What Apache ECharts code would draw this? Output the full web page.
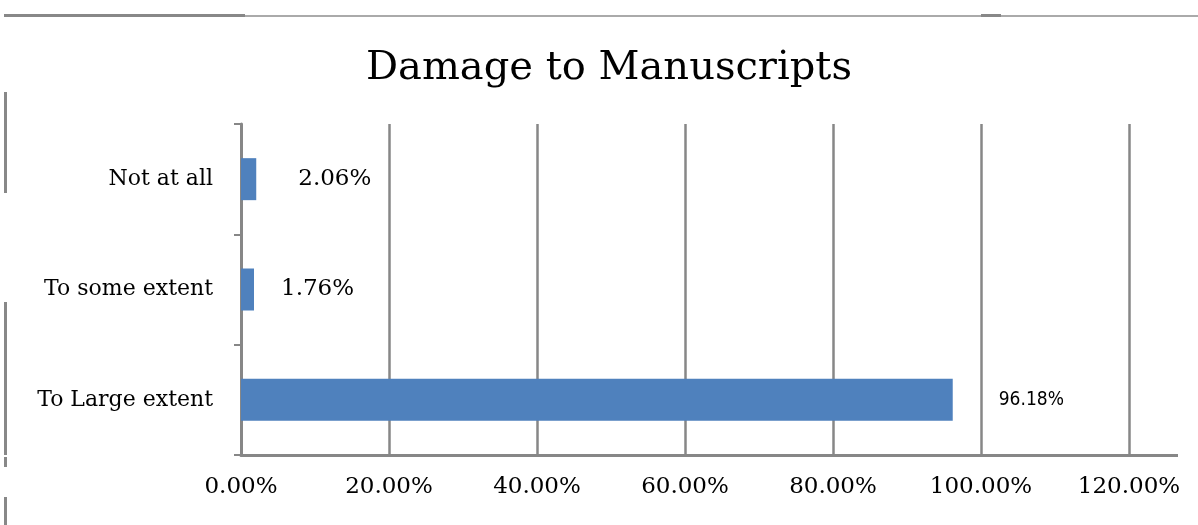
<!DOCTYPE html>
<html>
<head>
<meta charset="utf-8">
<script src="https://cdn.jsdelivr.net/npm/echarts@6/dist/echarts.min.js"></script>
<style>
html,body{margin:0;padding:0;background:#fff;}
#chart{width:1198px;height:525px;}
</style>
</head>
<body>
<div id="chart"></div>
<script>
// ---- data ----
var titleText = 'Damage to Manuscripts';
var categories = ['To Large extent', 'To some extent', 'Not at all'];
var values = [96.18, 1.76, 2.06];
var xTicks = [0, 20, 40, 60, 80, 100, 120];

// ---- styles ----
var serif = "'DejaVu Serif', serif";
var grey = '#878787';
var labelStyles = [
  {distance: 46, fontFamily: "'Liberation Sans Narrow','DejaVu Sans Condensed', sans-serif", fontSize: 19},
  {distance: 27},
  {distance: 42}
];

var chart = echarts.init(document.getElementById('chart'));
var option = {
  animation: false,
  backgroundColor: '#fff',
  title: {
    text: titleText,
    left: 361,
    top: 44,
    textStyle: {fontFamily: serif, fontSize: 40, fontWeight: 'normal', color: '#000'}
  },
  grid: {left: 241, right: 69, top: 124, bottom: 70},
  xAxis: {
    type: 'value',
    min: xTicks[0],
    max: xTicks[xTicks.length - 1],
    interval: xTicks[1] - xTicks[0],
    axisLine: {show: true, lineStyle: {color: grey, width: 3}},
    axisTick: {show: false},
    splitLine: {show: true, lineStyle: {color: grey, width: 2.5}},
    axisLabel: {
      margin: 21,
      fontFamily: serif,
      fontSize: 23,
      color: '#000',
      formatter: function (v) { return v.toFixed(2) + '%'; }
    }
  },
  yAxis: {
    type: 'category',
    data: categories,
    axisLine: {show: true, lineStyle: {color: grey, width: 3}},
    axisTick: {show: true, length: 7, lineStyle: {color: grey, width: 2}},
    axisLabel: {margin: 28, fontFamily: serif, fontSize: 22, color: '#000'}
  },
  series: [{
    type: 'bar',
    barWidth: 42,
    itemStyle: {color: '#4F81BD'},
    label: {
      show: true,
      position: 'right',
      fontFamily: serif,
      fontSize: 23,
      color: '#000',
      formatter: function (p) { return p.value.toFixed(2) + '%'; }
    },
    data: values.map(function (v, i) { return {value: v, label: labelStyles[i]}; })
  }],
  graphic: [
    {type: 'rect', shape: {x: 4, y: 14, width: 241, height: 3}, style: {fill: '#888'}},
    {type: 'rect', shape: {x: 245, y: 15, width: 953, height: 2}, style: {fill: '#aaa'}},
    {type: 'rect', shape: {x: 981, y: 14, width: 20, height: 3}, style: {fill: '#888'}},
    {type: 'rect', shape: {x: 4, y: 92, width: 3, height: 101}, style: {fill: '#888'}},
    {type: 'rect', shape: {x: 4, y: 302, width: 3, height: 153}, style: {fill: '#888'}},
    {type: 'rect', shape: {x: 4, y: 457, width: 3, height: 10}, style: {fill: '#888'}},
    {type: 'rect', shape: {x: 4, y: 497, width: 3, height: 28}, style: {fill: '#888'}},
    {type: 'rect', shape: {x: 1129, y: 454, width: 49, height: 3}, style: {fill: grey}}
  ]
};
chart.setOption(option);
</script>
</body>
</html>
